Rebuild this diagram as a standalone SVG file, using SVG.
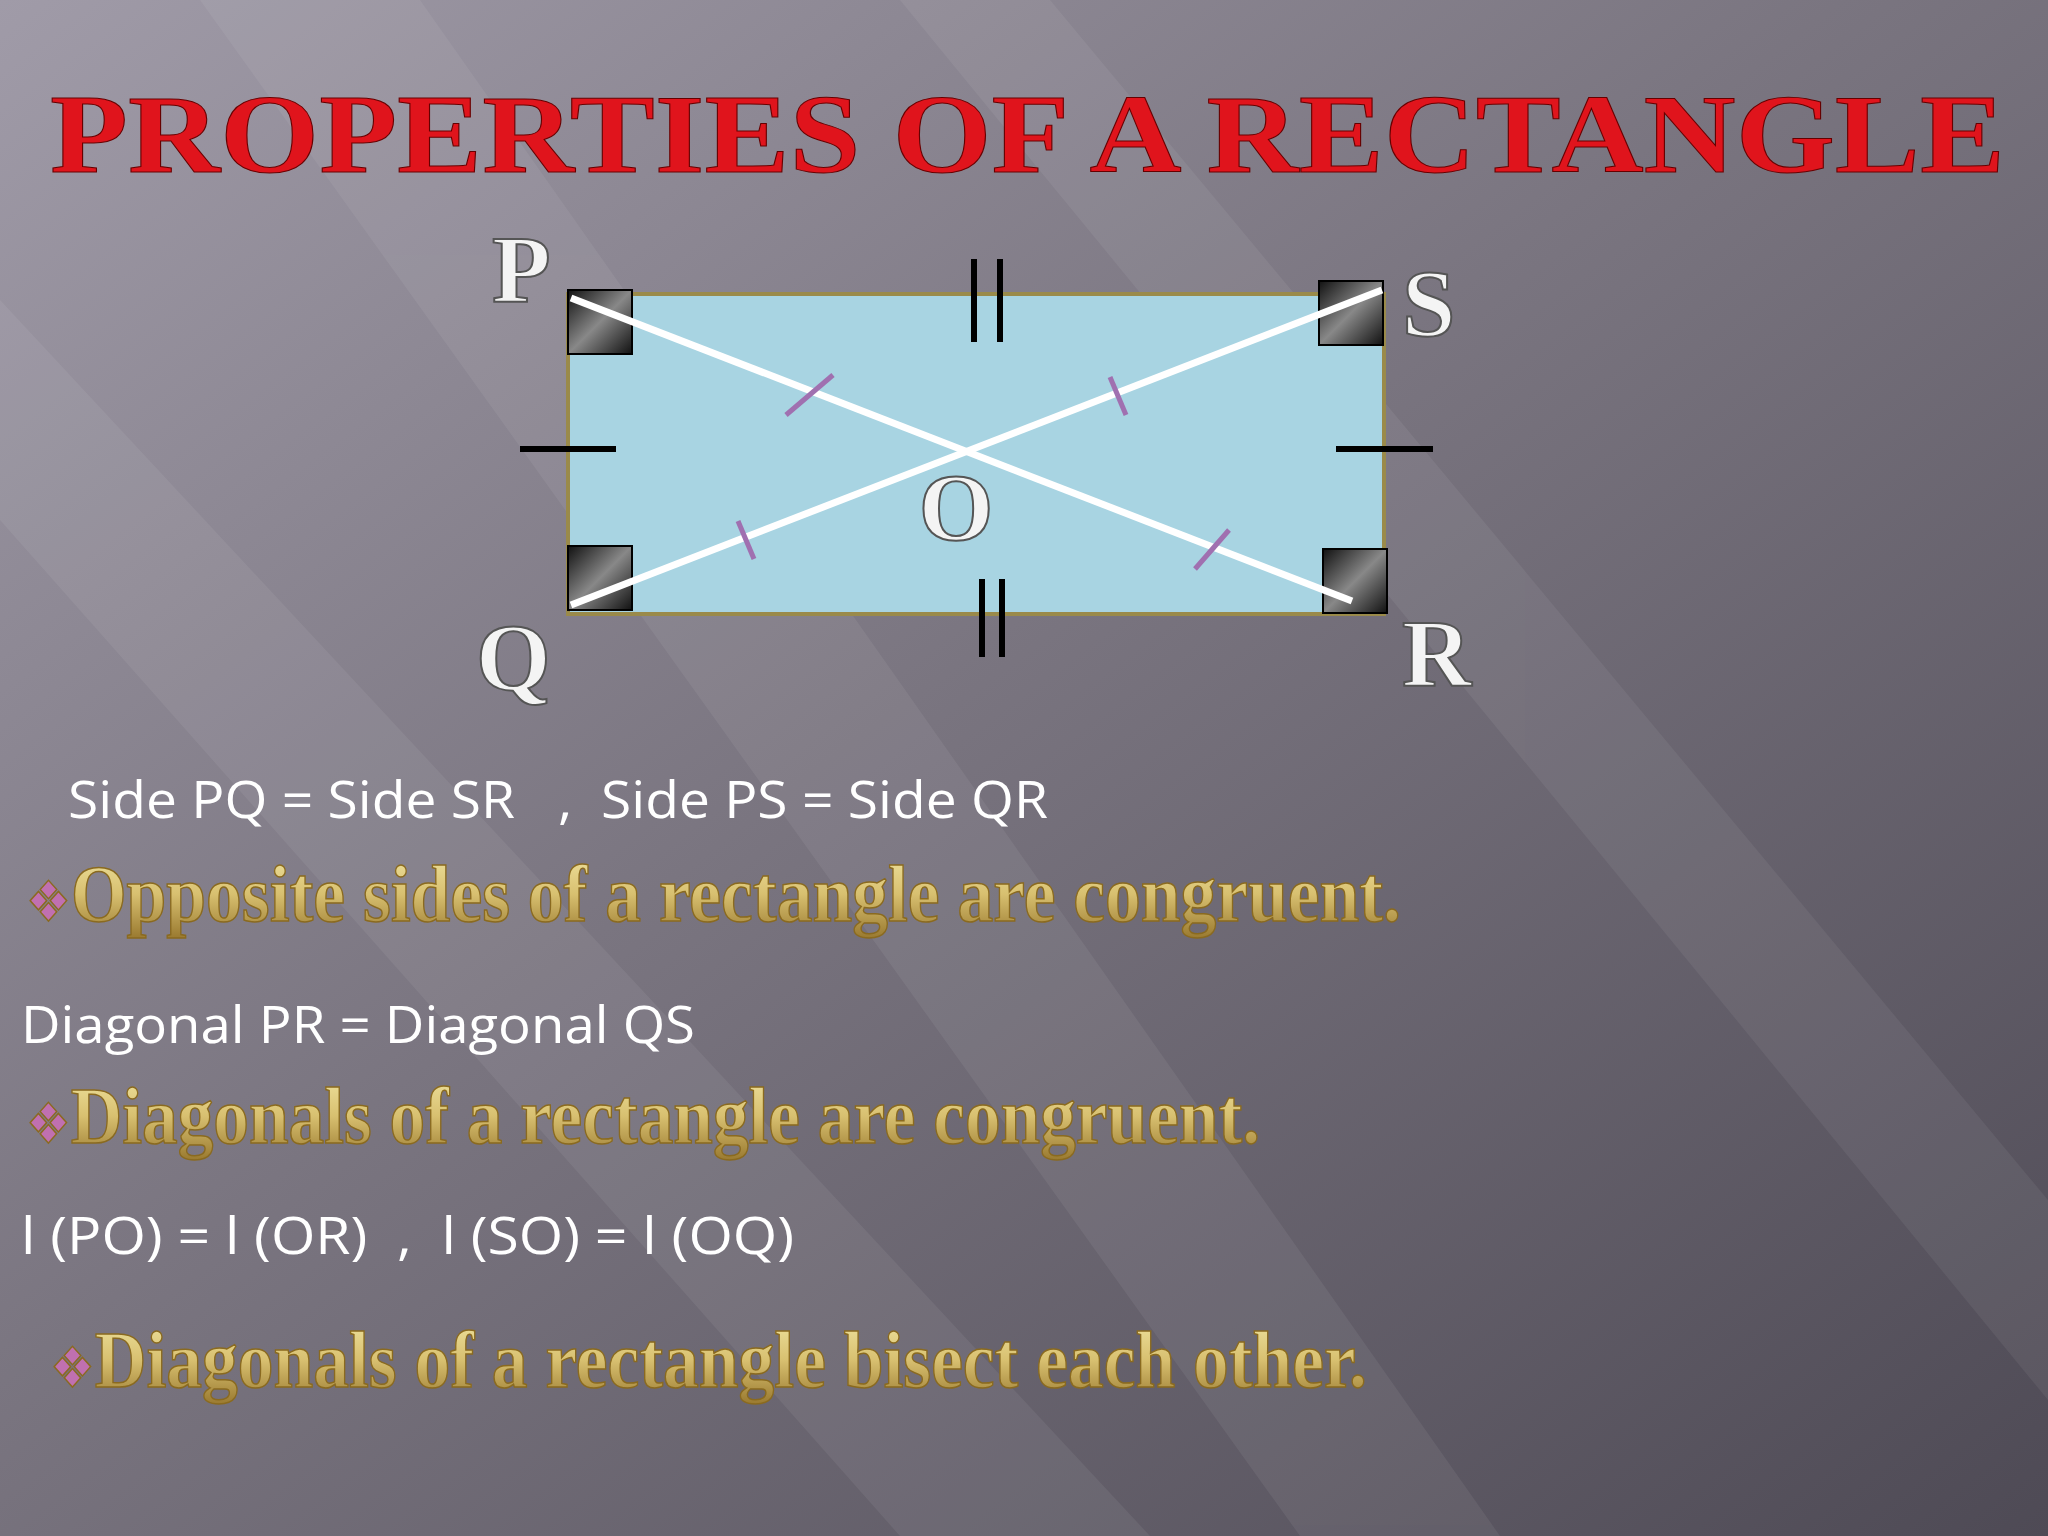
<svg xmlns="http://www.w3.org/2000/svg" width="2048" height="1536" viewBox="0 0 2048 1536">
<defs>
<linearGradient id="bg" x1="0" y1="0" x2="1" y2="1">
<stop offset="0" stop-color="#a09ba8"/><stop offset="0.45" stop-color="#7a7580"/><stop offset="1" stop-color="#4e4a55"/>
</linearGradient>
<linearGradient id="gold" x1="0" y1="0" x2="0" y2="1">
<stop offset="0" stop-color="#f0e4a0"/><stop offset="0.5" stop-color="#d8c070"/><stop offset="1" stop-color="#9a7a30"/>
</linearGradient>
<linearGradient id="sq" x1="0" y1="0" x2="1" y2="1">
<stop offset="0" stop-color="#111"/><stop offset="0.5" stop-color="#888"/><stop offset="1" stop-color="#111"/>
</linearGradient>
<style>
.lbl{font-family:"Liberation Serif",serif;font-weight:bold;font-size:96px;fill:#f4f4f4;stroke:#555;stroke-width:2}
.wt{font-family:"Open Sans","Noto Sans",sans-serif;font-size:52px;fill:#fff}
.gd{font-family:"Liberation Serif",serif;font-weight:bold;font-size:80px;fill:url(#gold);stroke:#8a6a20;stroke-width:1.5}
.bul{fill:#c070b0;font-family:"DejaVu Sans",sans-serif;font-size:56px}
.tick{stroke:#000;stroke-width:6}
.ptick{stroke:#a070b0;stroke-width:5}
.sqr{fill:url(#sq);stroke:#000;stroke-width:2}
</style>
</defs>
<rect width="2048" height="1536" fill="url(#bg)"/>
<g opacity="0.06" fill="#fff">
<polygon points="0,300 0,520 900,1536 1150,1536"/>
<polygon points="200,0 420,0 1500,1536 1300,1536"/>
<polygon points="900,0 1050,0 2048,1200 2048,1400"/>
</g>
<text x="50" y="172" textLength="1955" lengthAdjust="spacingAndGlyphs" style="font-family:'Liberation Serif',serif;font-weight:bold;font-size:112px;fill:#e0141c;stroke:#600;stroke-width:1">PROPERTIES OF A RECTANGLE</text>
<g id="rectangle">
<rect x="568" y="294" width="816" height="320" fill="#a8d4e2" stroke="#9a8a4a" stroke-width="4"/>
</g>
<g id="corners">
<rect class="sqr" x="568" y="290" width="64" height="64"/>
<rect class="sqr" x="1319" y="281" width="64" height="64"/>
<rect class="sqr" x="568" y="546" width="64" height="64"/>
<rect class="sqr" x="1323" y="549" width="64" height="64"/>
</g>
<g id="connectors">
<line x1="571" y1="298" x2="1352" y2="601" stroke="#fff" stroke-width="7"/>
<line x1="571" y1="605" x2="1382" y2="290" stroke="#fff" stroke-width="7"/>
<line class="tick" x1="974" y1="259" x2="974" y2="342"/><line class="tick" x1="1000" y1="259" x2="1000" y2="342"/>
<line class="tick" x1="982" y1="579" x2="982" y2="657"/><line class="tick" x1="1002" y1="579" x2="1002" y2="657"/>
<line class="tick" x1="520" y1="449" x2="616" y2="449"/><line class="tick" x1="1336" y1="449" x2="1433" y2="449"/>
<line class="ptick" x1="786" y1="415" x2="833" y2="375"/>
<line class="ptick" x1="1110" y1="377" x2="1126" y2="415"/>
<line class="ptick" x1="738" y1="521" x2="754" y2="559"/>
<line class="ptick" x1="1195" y1="569" x2="1229" y2="530"/>
</g>
<g id="labels">
<text class="lbl" x="492" y="302">P</text>
<text class="lbl" x="1402" y="336">S</text>
<text class="lbl" x="956" y="540" text-anchor="middle">O</text>
<text class="lbl" x="476" y="690">Q</text>
<text class="lbl" x="1402" y="686">R</text>
</g>
<g id="text">
<text class="wt" x="68" y="818" xml:space="preserve" textLength="980" lengthAdjust="spacingAndGlyphs">Side PQ = Side SR   ,  Side PS = Side QR</text>
<text class="gd" x="26" y="921" textLength="1375" lengthAdjust="spacingAndGlyphs"><tspan class="bul">❖</tspan>Opposite sides of a rectangle are congruent.</text>
<text class="wt" x="21" y="1043" textLength="674" lengthAdjust="spacingAndGlyphs">Diagonal PR = Diagonal QS</text>
<text class="gd" x="26" y="1143" textLength="1234" lengthAdjust="spacingAndGlyphs"><tspan class="bul">❖</tspan>Diagonals of a rectangle are congruent.</text>
<text class="wt" x="21" y="1254" xml:space="preserve" textLength="773" lengthAdjust="spacingAndGlyphs">l (PO) = l (OR)  ,  l (SO) = l (OQ)</text>
<text class="gd" x="50" y="1387" textLength="1317" lengthAdjust="spacingAndGlyphs"><tspan class="bul">❖</tspan>Diagonals of a rectangle bisect each other.</text>
</g>
</svg>
